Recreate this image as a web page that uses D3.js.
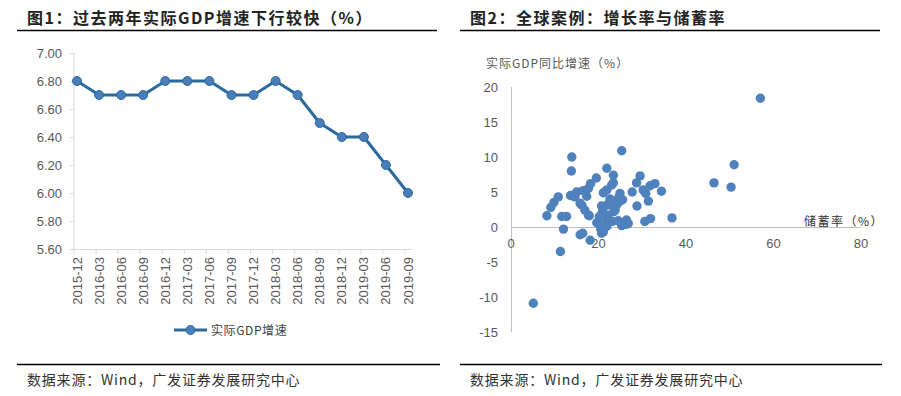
<!DOCTYPE html>
<html lang="zh">
<head>
<meta charset="UTF-8">
<title>GDP增速与储蓄率</title>
<script src="https://d3js.org/d3.v7.min.js"></script>
<style>
    body { margin: 0; background: #fff; }
    text { font-family: "Liberation Sans", Arial, "Noto Sans CJK SC", sans-serif; }
    .cn { font-family: "Noto Sans CJK SC", sans-serif; }
    .tick-label { font-size: 13px; fill: #595959; }
</style>
</head>
<body>
<div id="chart"></div>
<script>
    var w = 901;
    var h = 396;

    // 图1 data
    var quarters = ["2015-12","2016-03","2016-06","2016-09","2016-12","2017-03","2017-06","2017-09",
                    "2017-12","2018-03","2018-06","2018-09","2018-12","2019-03","2019-06","2019-09"];
    var gdpGrowth = [6.8, 6.7, 6.7, 6.7, 6.8, 6.8, 6.8, 6.7, 6.7, 6.8, 6.7, 6.5, 6.4, 6.4, 6.2, 6.0];
    var leftTicks = [5.6, 5.8, 6.0, 6.2, 6.4, 6.6, 6.8, 7.0];

    // 图2 data: savings rate (%) vs real GDP growth (%)
    var savingsRate = [57.0, 51.0, 50.3, 46.4, 36.8, 5.1, 11.3, 18.1, 15.8, 16.4,
                       12.0, 30.6, 31.9, 28.8, 31.4, 8.2, 11.6, 12.7, 9.1, 9.8,
                       10.8, 13.9, 13.8, 25.3, 21.9, 23.4, 19.5, 29.5, 28.7, 32.9,
                       31.8, 34.4, 30.2, 30.8, 27.7, 23.0, 23.4, 21.9, 21.1, 24.9,
                       24.5, 17.7, 18.2, 17.3, 15.0, 14.6, 15.8, 16.2, 16.9, 17.7,
                       17.9, 20.7, 21.9, 19.6, 20.5, 20.7, 21.9, 23.2, 22.2, 21.5,
                       25.9, 26.4, 26.8, 23.5, 24.8, 25.5, 23.8, 24.1, 22.2, 21.1,
                       20.0, 21.9, 25.3, 24.5, 20.9, 26.4, 22.6, 23.2, 13.6, 16.5, 20.2];
    var growthRate  = [18.4, 8.9, 5.7, 6.3, 1.3, -10.9, -3.5, -1.9, -1.1, -0.9,
                       -0.3, 0.8, 1.2, 3.0, 3.7, 1.6, 1.5, 1.5, 2.8, 3.5,
                       4.3, 10.0, 8.0, 10.9, 8.4, 7.4, 7.0, 7.3, 6.3, 6.2,
                       5.9, 5.1, 5.3, 4.8, 5.0, 6.0, 6.3, 5.3, 4.9, 4.8,
                       4.1, 5.5, 6.2, 4.4, 5.0, 4.3, 3.4, 3.1, 2.4, 1.7,
                       1.6, 3.0, 3.1, 0.6, -0.3, -0.9, 0.1, 0.8, 1.7, 1.6,
                       0.4, 1.0, 0.5, 2.2, 3.6, 3.9, 2.4, 3.1, 0.6, -0.7,
                       0.5, 1.0, 0.2, 0.9, 2.2, 0.4, 4.0, 3.2, 4.5, 5.2, 1.5];
    var rightXTicks = [0, 20, 40, 60, 80];
    var rightYTicks = [-15, -10, -5, 0, 5, 10, 15, 20];

    var svg = d3.select("#chart")
                .append("svg")
                .attr("width", w)
                .attr("height", h);

    // titles & footers
    function header(x, x1, x2, title) {
        svg.append("text")
           .attr("class", "cn")
           .attr("x", x)
           .attr("y", 24)
           .attr("font-size", 16)
           .attr("font-weight", "bold")
           .attr("letter-spacing", 1.5)
           .attr("fill", "#222")
           .text(title);
        svg.append("line")
           .attr("x1", x1).attr("x2", x2)
           .attr("y1", 30.5).attr("y2", 30.5)
           .attr("stroke", "#000").attr("stroke-width", 1.5);
    }
    function footer(x, x1, x2) {
        svg.append("line")
           .attr("x1", x1).attr("x2", x2)
           .attr("y1", 364.5).attr("y2", 364.5)
           .attr("stroke", "#000").attr("stroke-width", 1.5);
        svg.append("text")
           .attr("class", "cn")
           .attr("x", x)
           .attr("y", 385)
           .attr("font-size", 14)
           .attr("letter-spacing", 0.8)
           .attr("fill", "#333")
           .text("数据来源：Wind，广发证券发展研究中心");
    }
    header(27, 17, 437, "图1：过去两年实际GDP增速下行较快（%）");
    header(470, 460, 880, "图2：全球案例：增长率与储蓄率");
    footer(27, 17, 440);
    footer(470, 460, 882);

    // ---------- 图1 line chart ----------
    var xL = d3.scalePoint().domain(quarters).range([77, 408]);
    var yL = d3.scaleLinear().domain([5.6, 7.0]).range([249, 53]);

    var left = svg.append("g");

    left.append("line")
        .attr("x1", 74).attr("x2", 74)
        .attr("y1", yL(7.0)).attr("y2", yL(5.6))
        .attr("stroke", "#d9d9d9");
    left.append("line")
        .attr("x1", 74).attr("x2", 412)
        .attr("y1", yL(5.6) + 0.5).attr("y2", yL(5.6) + 0.5)
        .attr("stroke", "#d9d9d9");

    left.selectAll(".yt")
        .data(leftTicks)
        .enter()
        .append("line")
        .attr("x1", 70).attr("x2", 74)
        .attr("y1", function(d) { return yL(d) + 0.5; })
        .attr("y2", function(d) { return yL(d) + 0.5; })
        .attr("stroke", "#d9d9d9");

    left.selectAll(".ylab")
        .data(leftTicks)
        .enter()
        .append("text")
        .attr("class", "tick-label")
        .attr("x", 62)
        .attr("y", function(d) { return yL(d) + 4.5; })
        .attr("text-anchor", "end")
        .text(function(d) { return d3.format(".2f")(d); });

    left.selectAll(".xt")
        .data(quarters)
        .enter()
        .append("line")
        .attr("x1", function(d) { return xL(d) - 3; })
        .attr("x2", function(d) { return xL(d) - 3; })
        .attr("y1", 249).attr("y2", 254)
        .attr("stroke", "#d9d9d9");

    left.selectAll(".xlab")
        .data(quarters)
        .enter()
        .append("text")
        .attr("class", "tick-label")
        .attr("transform", function(d) { return "translate(" + (xL(d) + 4.5) + ",257) rotate(-90)"; })
        .attr("text-anchor", "end")
        .text(function(d) { return d; });

    var line = d3.line()
                 .x(function(d, i) { return xL(quarters[i]); })
                 .y(function(d) { return yL(d); });

    left.append("path")
        .datum(gdpGrowth)
        .attr("d", line)
        .attr("fill", "none")
        .attr("stroke", "#2a6a9e")
        .attr("stroke-width", 3);

    left.selectAll("circle")
        .data(gdpGrowth)
        .enter()
        .append("circle")
        .attr("cx", function(d, i) { return xL(quarters[i]); })
        .attr("cy", function(d) { return yL(d); })
        .attr("r", 4.5)
        .attr("fill", "#4a7ebb")
        .attr("stroke", "#2f6a9c")
        .attr("stroke-width", 1);

    // legend
    left.append("line")
        .attr("x1", 174).attr("x2", 207)
        .attr("y1", 330).attr("y2", 330)
        .attr("stroke", "#2a6a9e").attr("stroke-width", 3);
    left.append("circle")
        .attr("cx", 190.5).attr("cy", 330).attr("r", 4.5)
        .attr("fill", "#4a7ebb").attr("stroke", "#2f6a9c");
    left.append("text")
        .attr("class", "cn")
        .attr("x", 211)
        .attr("y", 334.5)
        .attr("font-size", 12)
        .attr("letter-spacing", 0.6)
        .attr("fill", "#404040")
        .text("实际GDP增速");

    // ---------- 图2 scatter ----------
    var xR = d3.scaleLinear().domain([0, 80]).range([511, 861]);
    var yR = d3.scaleLinear().domain([-15, 20]).range([332, 87]);

    var right = svg.append("g");

    right.append("line")
         .attr("x1", 511.5).attr("x2", 511.5)
         .attr("y1", yR(20)).attr("y2", yR(-15))
         .attr("stroke", "#bfbfbf");
    right.append("line")
         .attr("x1", xR(0)).attr("x2", xR(80))
         .attr("y1", yR(0) + 0.5).attr("y2", yR(0) + 0.5)
         .attr("stroke", "#bfbfbf");

    right.selectAll(".ry")
         .data(rightYTicks)
         .enter()
         .append("text")
         .attr("class", "tick-label")
         .attr("x", 498)
         .attr("y", function(d) { return yR(d) + 5; })
         .attr("text-anchor", "end")
         .attr("font-size", 14)
         .text(function(d) { return d; });

    right.selectAll(".rx")
         .data(rightXTicks)
         .enter()
         .append("text")
         .attr("class", "tick-label")
         .attr("x", function(d) { return xR(d); })
         .attr("y", 248)
         .attr("text-anchor", "middle")
         .text(function(d) { return d; });

    right.append("text")
         .attr("class", "cn")
         .attr("x", 486)
         .attr("y", 68)
         .attr("font-size", 12)
         .attr("letter-spacing", 1)
         .attr("fill", "#595959")
         .text("实际GDP同比增速（%）");

    right.append("text")
         .attr("class", "cn")
         .attr("x", 804)
         .attr("y", 226)
         .attr("font-size", 12)
         .attr("letter-spacing", 1.5)
         .attr("fill", "#333")
         .text("储蓄率（%）");

    right.selectAll("circle")
         .data(savingsRate)
         .enter()
         .append("circle")
         .attr("cx", function(d) { return xR(d); })
         .attr("cy", function(d, i) { return yR(growthRate[i]); })
         .attr("r", 4.7)
         .attr("fill", "#4f81bd");
</script>
</body>
</html>
